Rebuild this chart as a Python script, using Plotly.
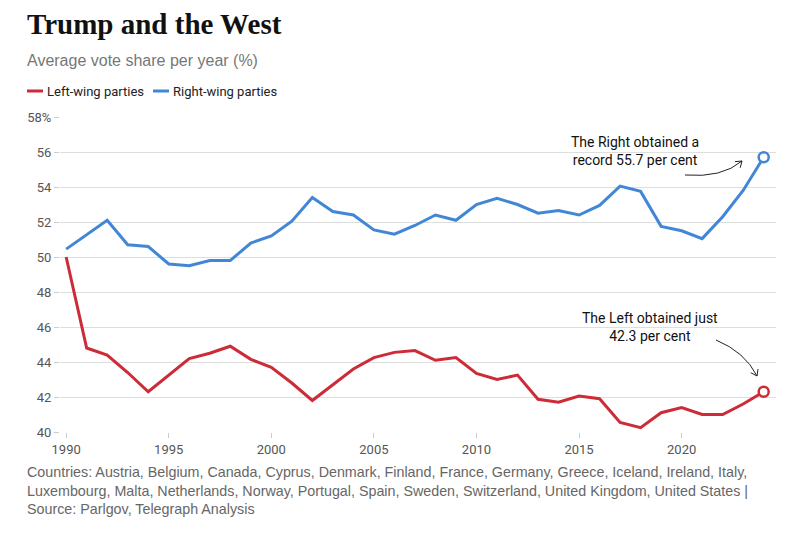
import plotly.graph_objects as go

years = list(range(1990, 2025))
left_wing = [50.0, 44.8, 44.4, 43.4, 42.3, 43.25, 44.2, 44.5, 44.9, 44.15, 43.7, 42.8,
             41.8, 42.7, 43.6, 44.25, 44.55, 44.65, 44.1, 44.25, 43.35, 43.0, 43.25, 41.87,
             41.7, 42.05, 41.9, 40.55, 40.25, 41.1, 41.4, 41.0, 41.0, 41.6, 42.3]
right_wing = [50.45, 51.3, 52.1, 50.7, 50.6, 49.6, 49.5, 49.8, 49.8, 50.8, 51.2, 52.05,
              53.4, 52.6, 52.4, 51.55, 51.3, 51.8, 52.4, 52.1, 53.0, 53.35, 53.0, 52.5,
              52.65, 52.4, 52.95, 54.05, 53.75, 51.75, 51.5, 51.05, 52.3, 53.8, 55.7]
y_tickvals = [40, 42, 44, 46, 48, 50, 52, 54, 56, 58]
y_ticktext = ["40", "42", "44", "46", "48", "50", "52", "54", "56", "58%"]
x_tickvals = [1990, 1995, 2000, 2005, 2010, 2015, 2020]

RED = "#cc2b37"
BLUE = "#4287d6"
COND = "Roboto, Liberation Sans Narrow, sans-serif"
SANS = "Liberation Sans, Arial, sans-serif"

W, H = 800, 538
OFF = 8  # page body margin
ML, MR = 60 - OFF, 800 - (776 - OFF)
MT, MB = 117 - OFF, 538 - (432 - OFF)
PW = W - ML - MR
PH = H - MT - MB


def px(x):
    return (x - OFF - ML) / PW


def py(y):
    return (H - MB - (y - OFF)) / PH


fig = go.Figure()
fig.add_trace(go.Scatter(x=years, y=left_wing, mode="lines", name="Left-wing parties",
                         line=dict(color=RED, width=3), hoverinfo="x+y"))
fig.add_trace(go.Scatter(x=years, y=right_wing, mode="lines", name="Right-wing parties",
                         line=dict(color=BLUE, width=3), hoverinfo="x+y"))
# end-point markers
fig.add_trace(go.Scatter(x=[years[-1]], y=[left_wing[-1]], mode="markers", showlegend=False,
                         marker=dict(size=10, color="white", line=dict(color=RED, width=2.5))))
fig.add_trace(go.Scatter(x=[years[-1]], y=[right_wing[-1]], mode="markers", showlegend=False,
                         marker=dict(size=10, color="white", line=dict(color=BLUE, width=2.5))))

LX = 25  # left text edge (page px) allowing for annotation padding

annotations = [
    dict(text="<b>Trump and the West</b>", x=px(LX + 1), y=py(24.5), xref="paper", yref="paper",
         xanchor="left", yanchor="middle", showarrow=False, borderpad=0,
         font=dict(family="Liberation Serif, DejaVu Serif, serif", size=29, color="#111")),
    dict(text="Average vote share per year (%)", x=px(LX), y=py(61), xref="paper", yref="paper",
         xanchor="left", yanchor="middle", showarrow=False,
         font=dict(family=SANS, size=16, color="#777")),
    dict(text="Left-wing parties", x=px(45), y=py(91), xref="paper", yref="paper",
         xanchor="left", yanchor="middle", showarrow=False,
         font=dict(family=COND, size=13, color="#222")),
    dict(text="Right-wing parties", x=px(171), y=py(91), xref="paper", yref="paper",
         xanchor="left", yanchor="middle", showarrow=False,
         font=dict(family=COND, size=13, color="#222")),
    dict(text="The Right obtained a<br>record 55.7 per cent", x=px(635), y=py(151),
         xref="paper", yref="paper", xanchor="center", yanchor="middle", showarrow=False,
         font=dict(family=COND, size=14, color="#111")),
    dict(text="The Left obtained just<br>42.3 per cent", x=px(650), y=py(327),
         xref="paper", yref="paper", xanchor="center", yanchor="middle", showarrow=False,
         font=dict(family=COND, size=14, color="#111")),
    dict(text="Countries: Austria, Belgium, Canada, Cyprus, Denmark, Finland, France, Germany, Greece, Iceland, Ireland, Italy,<br>"
              "Luxembourg, Malta, Netherlands, Norway, Portugal, Spain, Sweden, Switzerland, United Kingdom, United States |<br>"
              "Source: Parlgov, Telegraph Analysis",
         x=px(LX), y=py(462), xref="paper", yref="paper", xanchor="left", yanchor="top",
         align="left", showarrow=False, font=dict(family=SANS, size=14.3, color="#666")),
]


def pth(points):
    return "M " + " L ".join(f"{px(a)},{py(b)}" for a, b in points)


shapes = [
    dict(type="line", xref="paper", yref="paper", x0=px(27), x1=px(43), y0=py(91), y1=py(91),
         line=dict(color=RED, width=3)),
    dict(type="line", xref="paper", yref="paper", x0=px(153), x1=px(169), y0=py(91), y1=py(91),
         line=dict(color=BLUE, width=3)),
    dict(type="path", xref="paper", yref="paper",
         path=f"M {px(685)},{py(175)} Q {px(722)},{py(178)} {px(742)},{py(161)}",
         line=dict(color="#222", width=1)),
    dict(type="path", xref="paper", yref="paper",
         path=pth([(735, 161.7), (742, 161), (740.2, 167.8)]),
         line=dict(color="#222", width=1)),
    dict(type="path", xref="paper", yref="paper",
         path=f"M {px(716)},{py(340)} Q {px(745)},{py(352)} {px(757)},{py(376)}",
         line=dict(color="#222", width=1)),
    dict(type="path", xref="paper", yref="paper",
         path=pth([(758, 369.1), (757, 376), (750.8, 372.7)]),
         line=dict(color="#222", width=1)),
]

fig.update_layout(
    width=W, height=H,
    margin=dict(l=ML, r=MR, t=MT, b=MB),
    paper_bgcolor="white", plot_bgcolor="white",
    showlegend=False,
    annotations=annotations,
    shapes=shapes,
    xaxis=dict(range=[1989.7, 2024.6], tickvals=x_tickvals, showgrid=False, zeroline=False,
               ticks="outside", ticklen=5, tickcolor="#ccc", showline=False,
               tickfont=dict(family=COND, size=13, color="#555")),
    yaxis=dict(range=[40, 58], tickvals=y_tickvals, ticktext=y_ticktext, showgrid=True,
               gridcolor="#dedede", gridwidth=1, zeroline=False, ticks="outside", ticklen=5,
               tickcolor="#ccc", tickfont=dict(family=COND, size=13, color="#555")),
)

fig.write_html("out.html")
